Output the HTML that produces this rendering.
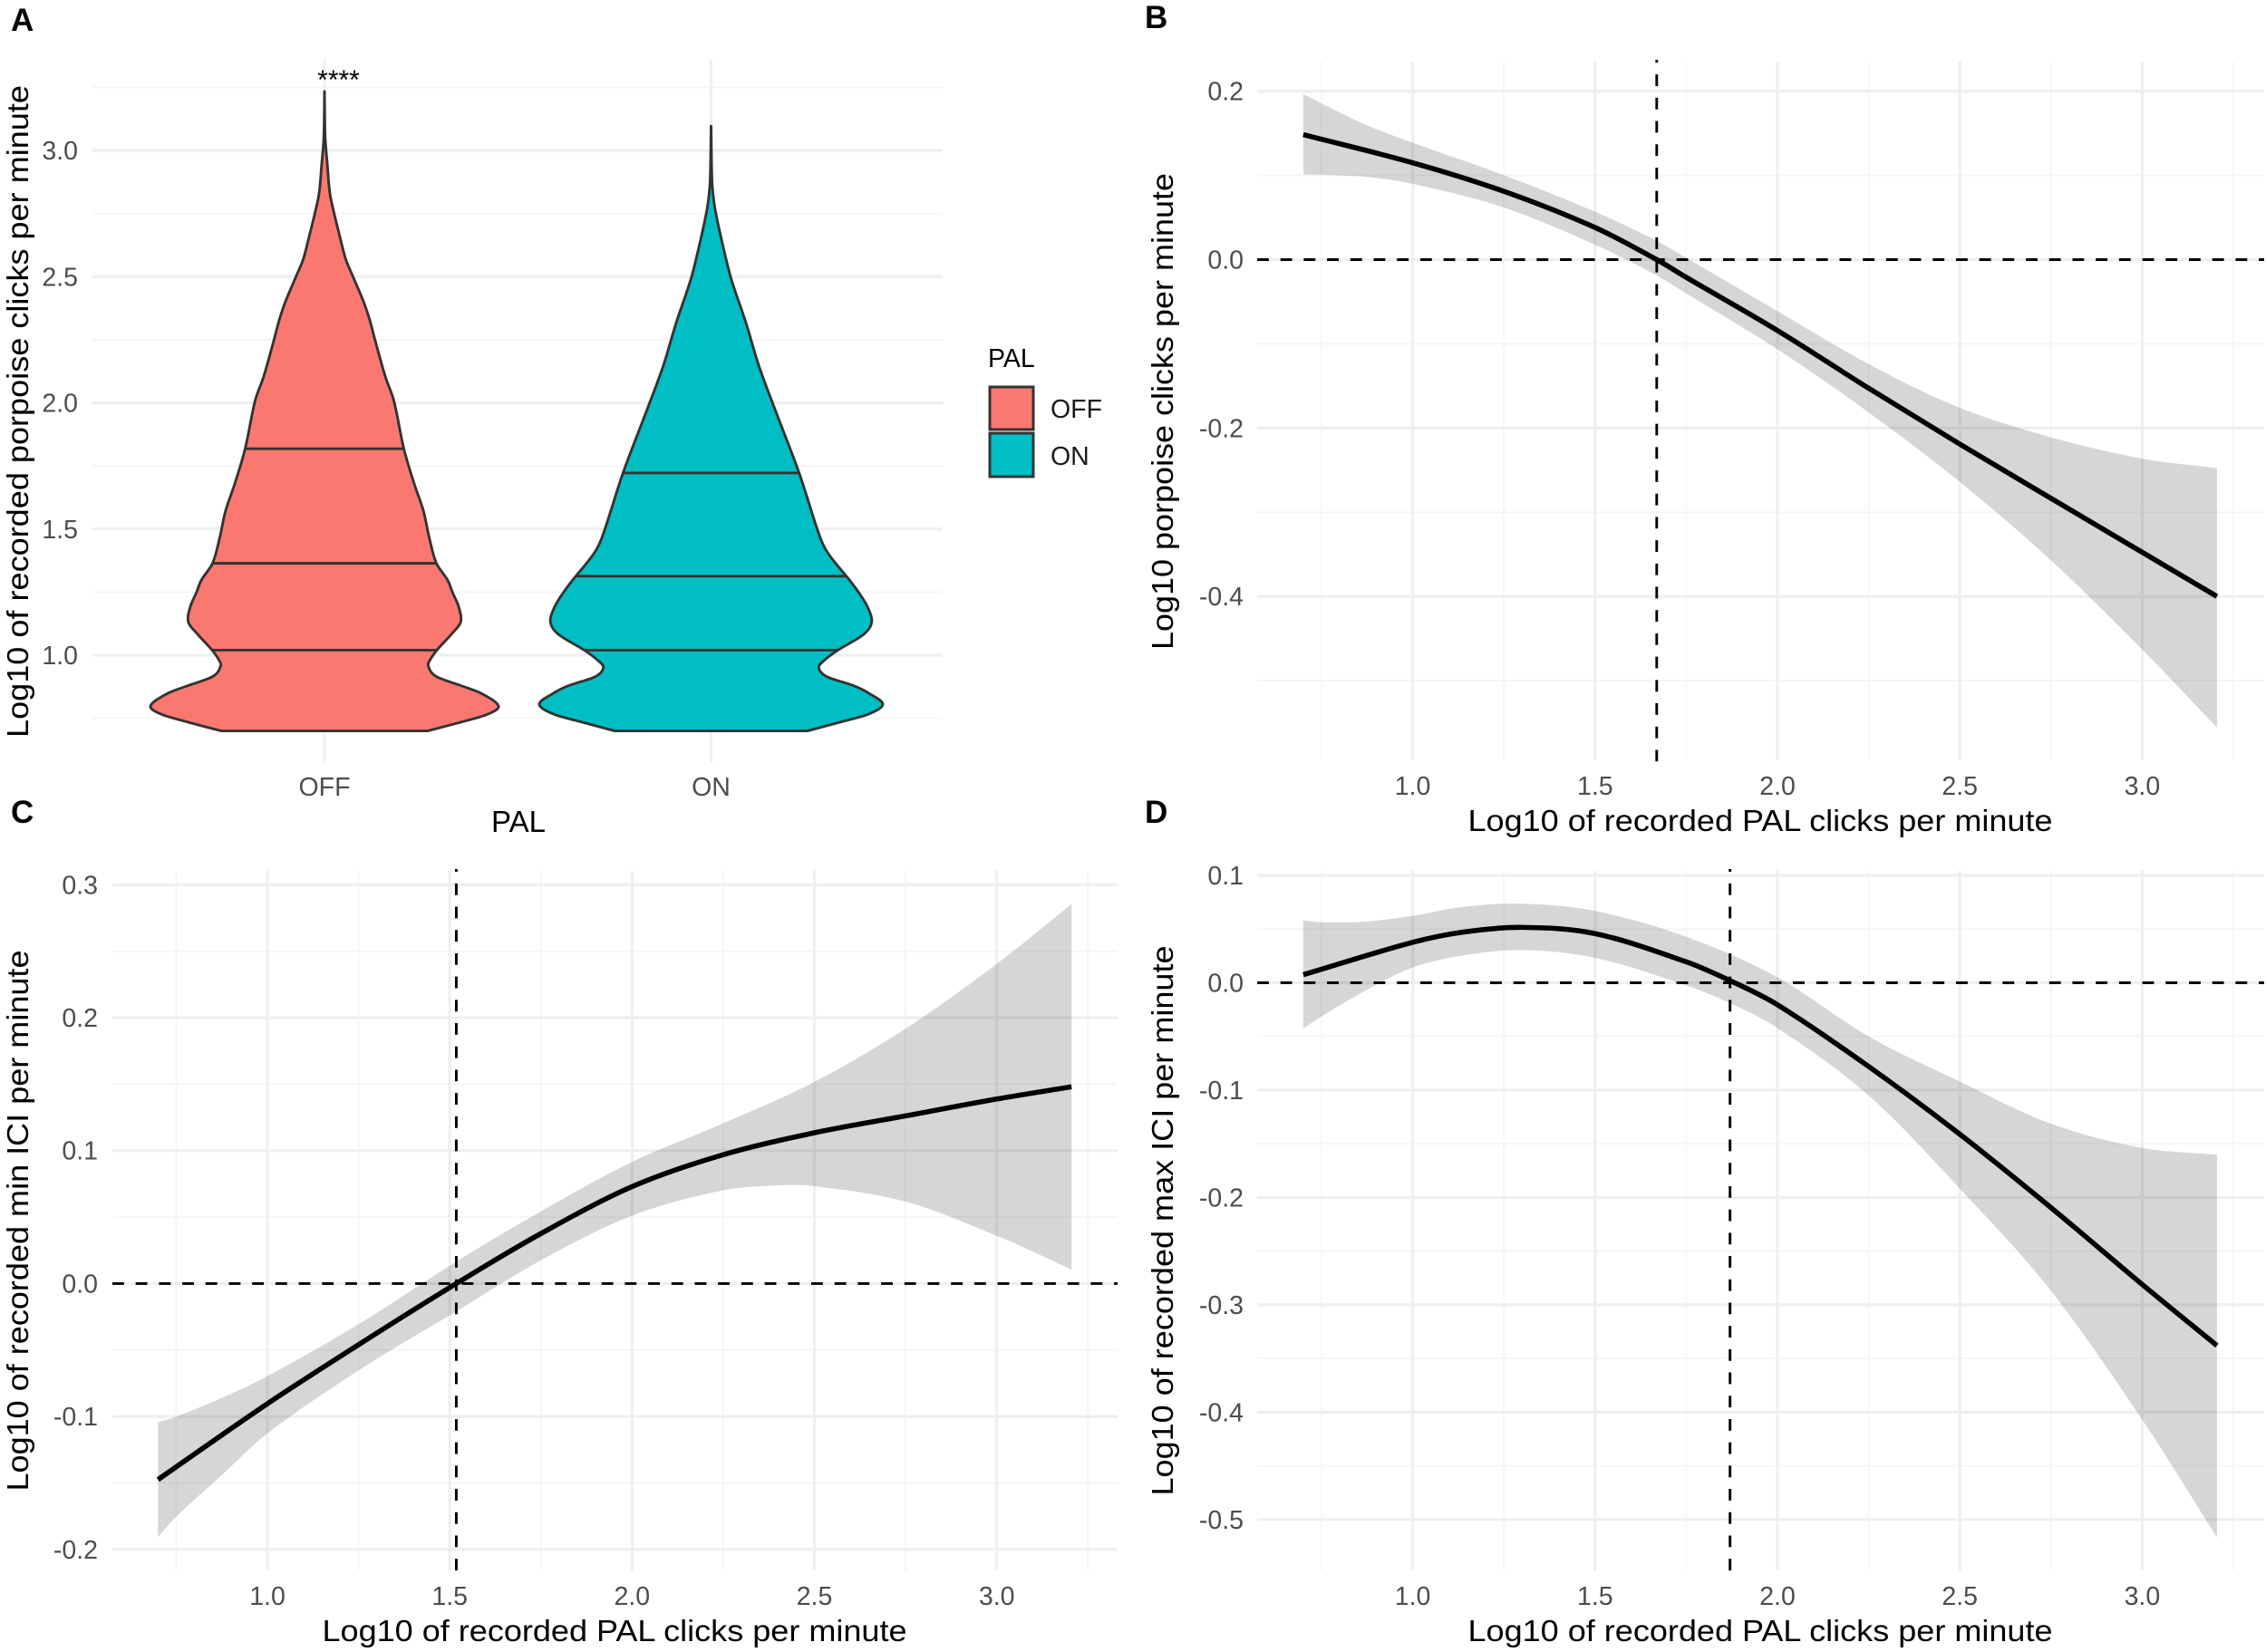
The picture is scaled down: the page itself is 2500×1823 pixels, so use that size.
<!DOCTYPE html>
<html lang="en">
<head>
<meta charset="utf-8">
<title>PAL and porpoise click response plots</title>
<style>
  html,body{margin:0;padding:0;background:#fff;}
  svg{display:block;}
  text{font-family:"Liberation Sans",Arial,sans-serif;}
  .tick{font-size:28.5px;fill:#4D4D4D;}
  .title{font-size:33px;fill:#000;text-anchor:middle;}
  .tag{font-size:35px;font-weight:bold;fill:#000;}
</style>
</head>
<body>
<svg id="figure" xmlns="http://www.w3.org/2000/svg" width="2500" height="1823" viewBox="0 0 2500 1823">
  <rect x="0" y="0" width="2500" height="1823" fill="#ffffff"/>
  <g id="panelA"></g>
  <g id="panelB"></g>
  <g id="panelC"></g>
  <g id="panelD"></g>

  <text class="tag" x="12" y="34">A</text>
  <text class="tag" x="1263" y="31">B</text>
  <text class="tag" x="12" y="908">C</text>
  <text class="tag" x="1263" y="908">D</text>

  <text class="title" x="572" y="918">PAL</text>
  <text class="title" transform="translate(31,454) rotate(-90)" textLength="720" lengthAdjust="spacingAndGlyphs">Log10 of recorded porpoise clicks per minute</text>
  <text class="title" x="1942" y="917" textLength="645" lengthAdjust="spacingAndGlyphs">Log10 of recorded PAL clicks per minute</text>
  <text class="title" transform="translate(1294,454) rotate(-90)" textLength="526" lengthAdjust="spacingAndGlyphs">Log10 porpoise clicks per minute</text>
  <text class="title" x="678" y="1811" textLength="645" lengthAdjust="spacingAndGlyphs">Log10 of recorded PAL clicks per minute</text>
  <text class="title" transform="translate(31,1347) rotate(-90)" textLength="597" lengthAdjust="spacingAndGlyphs">Log10 of recorded min ICI per minute</text>
  <text class="title" x="1942" y="1811" textLength="645" lengthAdjust="spacingAndGlyphs">Log10 of recorded PAL clicks per minute</text>
  <text class="title" transform="translate(1294,1347) rotate(-90)" textLength="607" lengthAdjust="spacingAndGlyphs">Log10 of recorded max ICI per minute</text>

  <text x="373.5" y="98" font-size="30" text-anchor="middle" fill="#000">****</text>

  <g>
    <text x="1090" y="405" font-size="28.5" fill="#000">PAL</text>
    <rect x="1092" y="427" width="48" height="47" fill="#FA7870" stroke="#333333" stroke-width="3"/>
    <rect x="1092" y="478" width="48" height="48" fill="#00BFC4" stroke="#333333" stroke-width="3"/>
    <text class="tick" x="1159" y="461" style="fill:#1a1a1a">OFF</text>
    <text class="tick" x="1159" y="513" style="fill:#1a1a1a">ON</text>
  </g>
</svg>

<script>
/* ---------- Panel A data ---------- */
const violinCategories = ["OFF", "ON"];
const violinYTickLabels = ["1.0", "1.5", "2.0", "2.5", "3.0"];
const violinYMinor = [0.75, 1.25, 1.75, 2.25, 2.75, 3.25];
const violinOffValues = [3.234, 3.05, 2.95, 2.83, 2.749, 2.651, 2.567, 2.495, 2.40, 2.328, 2.25, 2.105, 2.01, 1.818, 1.68, 1.573, 1.466, 1.364, 1.298, 1.25, 1.19, 1.13, 1.083, 1.02, 0.985, 0.959, 0.915, 0.879, 0.849, 0.798, 0.765, 0.735, 0.70];
const violinOffDensity = [0, 0.004, 0.0156, 0.031, 0.056, 0.091, 0.123, 0.167, 0.225, 0.26, 0.29, 0.349, 0.398, 0.456, 0.515, 0.568, 0.602, 0.643, 0.707, 0.735, 0.772, 0.782, 0.729, 0.646, 0.61, 0.596, 0.643, 0.786, 0.90, 1, 0.934, 0.786, 0.593];
const violinOnValues = [3.096, 2.95, 2.872, 2.8, 2.745, 2.617, 2.49, 2.318, 2.148, 1.978, 1.722, 1.466, 1.4, 1.298, 1.25, 1.19, 1.13, 1.083, 1.02, 0.985, 0.953, 0.915, 0.879, 0.849, 0.805, 0.765, 0.735, 0.70];
const violinOnDensity = [0, 0.003, 0.006, 0.016, 0.029, 0.07, 0.116, 0.2, 0.274, 0.365, 0.506, 0.627, 0.676, 0.795, 0.847, 0.9, 0.923, 0.878, 0.729, 0.66, 0.619, 0.665, 0.82, 0.907, 0.987, 0.90, 0.743, 0.554];
const violinOffQuantiles = [1.02, 1.364, 1.818];
const violinOnQuantiles = [1.02, 1.313, 1.722];

/* ---------- Shared x axis for panels B, C, D ---------- */
const palXTickLabels = ["1.0", "1.5", "2.0", "2.5", "3.0"];
const palXMinor = [0.75, 1.25, 1.75, 2.25, 2.75, 3.25];

/* ---------- Panel B data ---------- */
const bYTickLabels = ["-0.4", "-0.2", "0.0", "0.2"];
const bYMinor = [-0.5, -0.3, -0.1, 0.1];
const bVline = [1.669];
const bLineX = [0.7, 1.0, 1.25, 1.5, 1.669, 1.749, 2.0, 2.25, 2.5, 2.75, 3.0, 3.205];
const bLineY = [0.1484, 0.115, 0.0811, 0.0381, 0.0, -0.0208, -0.0842, -0.1527, -0.2191, -0.2835, -0.3475, -0.4];
const bUpperX = [0.7, 0.752, 0.872, 1.0, 1.25, 1.5, 1.669, 1.749, 2.0, 2.25, 2.5, 2.75, 3.0, 3.205];
const bUpperY = [0.1965, 0.185, 0.16, 0.1388, 0.1003, 0.0569, 0.0223, 0.0023, -0.0612, -0.124, -0.176, -0.211, -0.2363, -0.2477];
const bLowerX = [0.7, 0.752, 0.872, 1.0, 1.25, 1.5, 1.669, 1.749, 2.0, 2.25, 2.5, 2.75, 3.0, 3.205];
const bLowerY = [0.1011, 0.1007, 0.0984, 0.09, 0.0619, 0.0177, -0.0188, -0.04, -0.1065, -0.1814, -0.2639, -0.3572, -0.463, -0.5556];

/* ---------- Panel C data ---------- */
const cYTickLabels = ["-0.2", "-0.1", "0.0", "0.1", "0.2", "0.3"];
const cYMinor = [-0.15, -0.05, 0.05, 0.15, 0.25];
const cVline = [1.518];
const cLineX = [0.7, 1.0, 1.25, 1.518, 1.75, 2.0, 2.25, 2.5, 2.75, 3.0, 3.205];
const cLineY = [-0.1475, -0.0904, -0.046, 0.0, 0.0376, 0.0729, 0.0969, 0.1134, 0.1261, 0.1388, 0.148];
const cUpperX = [0.7, 0.75, 0.878, 1.0, 1.25, 1.518, 1.75, 2.0, 2.25, 2.5, 2.75, 3.0, 3.205];
const cUpperY = [-0.1043, -0.1002, -0.0857, -0.0696, -0.0306, 0.0165, 0.0543, 0.0915, 0.1205, 0.1517, 0.1918, 0.2405, 0.2855];
const cLowerX = [0.7, 0.75, 0.878, 1.0, 1.25, 1.518, 1.75, 2.0, 2.25, 2.4, 2.5, 2.75, 3.0, 3.205];
const cLowerY = [-0.1906, -0.1753, -0.1433, -0.1127, -0.0654, -0.0209, 0.0175, 0.0511, 0.0701, 0.0738, 0.0733, 0.0616, 0.036, 0.0105];

/* ---------- Panel D data ---------- */
const dYTickLabels = ["-0.5", "-0.4", "-0.3", "-0.2", "-0.1", "0.0", "0.1"];
const dYMinor = [-0.45, -0.35, -0.25, -0.15, -0.05, 0.05];
const dVline = [1.87];
const dLineX = [0.7, 1.0, 1.14, 1.3, 1.5, 1.75, 1.87, 2.0, 2.25, 2.5, 2.75, 3.0, 3.205];
const dLineY = [0.0075, 0.0377, 0.0473, 0.0516, 0.0458, 0.0195, 0.002, -0.0205, -0.078, -0.1411, -0.2095, -0.281, -0.338];
const dUpperX = [0.7, 0.752, 0.872, 1.0, 1.14, 1.3, 1.5, 1.75, 2.0, 2.25, 2.5, 2.75, 3.0, 3.205];
const dUpperY = [0.0579, 0.0564, 0.057, 0.0624, 0.0708, 0.0736, 0.0669, 0.0428, 0.0051, -0.05, -0.092, -0.1313, -0.1538, -0.1602];
const dLowerX = [0.7, 0.752, 0.872, 1.0, 1.14, 1.3, 1.5, 1.75, 1.87, 2.0, 2.25, 2.5, 2.75, 3.0, 3.205];
const dLowerY = [-0.0425, -0.031, -0.0069, 0.0142, 0.0256, 0.0304, 0.0232, -0.0024, -0.019, -0.0422, -0.105, -0.1918, -0.287, -0.407, -0.5167];

/* ---------- Helpers ---------- */
const NS = "http://www.w3.org/2000/svg";
function make(parent, tag, attrs) {
  const el = document.createElementNS(NS, tag);
  for (const k in attrs) el.setAttribute(k, attrs[k]);
  parent.appendChild(el);
  return el;
}
function linearScale(d0, d1, r0, r1) {
  return function (v) { return r0 + (v - d0) * (r1 - r0) / (d1 - d0); };
}
/* Cubic Hermite through points monotone in the independent coordinate. */
function hermite(ind, dep, toPt) {
  const n = ind.length;
  const tan = [];
  for (let i = 0; i < n; i++) {
    const a = Math.max(0, i - 1), b = Math.min(n - 1, i + 1);
    tan.push((dep[b] - dep[a]) / (ind[b] - ind[a]));
  }
  let d = "";
  for (let i = 0; i < n - 1; i++) {
    const h = ind[i + 1] - ind[i];
    const c1 = toPt(ind[i] + h / 3, dep[i] + tan[i] * h / 3);
    const c2 = toPt(ind[i + 1] - h / 3, dep[i + 1] - tan[i + 1] * h / 3);
    const p = toPt(ind[i + 1], dep[i + 1]);
    d += "C" + c1 + " " + c2 + " " + p + " ";
  }
  return d;
}
function curvePath(xs, ys) {
  const toPt = function (a, b) { return a.toFixed(2) + "," + b.toFixed(2); };
  return { start: toPt(xs[0], ys[0]), body: hermite(xs, ys, toPt) };
}
function interp(vals, dens, v) {
  for (let i = 0; i < vals.length - 1; i++) {
    if (v <= vals[i] && v >= vals[i + 1]) {
      const t = (vals[i] - v) / (vals[i] - vals[i + 1]);
      return dens[i] + t * (dens[i + 1] - dens[i]);
    }
  }
  return 0;
}
function gridH(g, vals, x0, x1, sy, major) {
  vals.forEach(function (v) {
    const el = make(g, "line", { x1: x0, x2: x1, y1: sy(v), y2: sy(v), stroke: major ? "#EFEFEF" : "#F5F5F5", "stroke-width": major ? 3.2 : 1.9 });
    
    
  });
}
function gridV(g, vals, y0, y1, sx, major) {
  vals.forEach(function (v) {
    const el = make(g, "line", { x1: sx(v), x2: sx(v), y1: y0, y2: y1, stroke: major ? "#EFEFEF" : "#F5F5F5", "stroke-width": major ? 3.2 : 1.9 });
    
    
  });
}
function yTickText(g, labels, xRight, sy) {
  labels.forEach(function (s) {
    const el = make(g, "text", { x: xRight, y: sy(parseFloat(s)) + 10, "text-anchor": "end", class: "tick" });
    el.textContent = s;
    
    
  });
}
function xTickText(g, labels, y, sx) {
  labels.forEach(function (s) {
    const el = make(g, "text", { x: sx(parseFloat(s)), y: y, "text-anchor": "middle", class: "tick" });
    el.textContent = s;
    
    
  });
}

/* ---------- Panel A: violins ---------- */
(function () {
  const g = document.getElementById("panelA");
  const sy = linearScale(1, 3, 723, 166);
  const catX = linearScale(0, 1, 358, 784.5);
  const sw = function (d) { return d * 192; };
  const x0 = 102, x1 = 1040, y0 = 66, y1 = 842;
  gridH(g, violinYMinor, x0, x1, sy, false);
  gridH(g, violinYTickLabels.map(parseFloat), x0, x1, sy, true);
  gridV(g, violinCategories.map(function (c, i) { return i; }), y0, y1, catX, true);

  const series = [
    { vals: violinOffValues, dens: violinOffDensity, q: violinOffQuantiles, fill: "#FA7870" },
    { vals: violinOnValues, dens: violinOnDensity, q: violinOnQuantiles, fill: "#00BFC4" }
  ];
  series.forEach(function (s, i) {
    const cx = catX(i);
    const ys = s.vals.map(sy);
    const toPtL = function (yy, d) { return (cx - sw(d)).toFixed(2) + "," + yy.toFixed(2); };
    const toPtR = function (yy, d) { return (cx + sw(d)).toFixed(2) + "," + yy.toFixed(2); };
    const revY = ys.slice().reverse();
    const revD = s.dens.slice().reverse();
    const d = "M" + toPtL(ys[0], s.dens[0]) + " " + hermite(ys, s.dens, toPtL) +
      "L" + toPtR(revY[0], revD[0]) + " " + hermite(revY, revD, toPtR) + "Z";
    const body = make(g, "path", { d: d, fill: s.fill, stroke: "#333333", "stroke-width": 2.9, "stroke-linejoin": "round" });
    
    
    s.q.forEach(function (q) {
      const w = sw(interp(s.vals, s.dens, q));
      const ln = make(g, "line", { x1: cx - w, x2: cx + w, y1: sy(q), y2: sy(q), stroke: "#333333", "stroke-width": 2.9 });
      
      
    });
  });
  yTickText(g, violinYTickLabels, 86, sy);
  violinCategories.forEach(function (c, i) {
    const t = make(g, "text", { x: catX(i), y: 878, "text-anchor": "middle", class: "tick" });
    t.textContent = c;
    
    
  });
})();

/* ---------- Panels B, C, D: smooth with ribbon ---------- */
function smoothPanel(cfg) {
  const g = document.getElementById(cfg.id);
  const sx = cfg.sx, sy = cfg.sy;
  gridH(g, cfg.yMinor, cfg.x0, cfg.x1, sy, false);
  gridV(g, palXMinor, cfg.y0, cfg.y1, sx, false);
  gridH(g, cfg.yLabels.map(parseFloat), cfg.x0, cfg.x1, sy, true);
  gridV(g, palXTickLabels.map(parseFloat), cfg.y0, cfg.y1, sx, true);

  const up = curvePath(cfg.upX.map(sx), cfg.upY.map(sy));
  const lo = curvePath(cfg.loX.slice().reverse().map(sx), cfg.loY.slice().reverse().map(sy));
  const ribbon = make(g, "path", { d: "M" + up.start + " " + up.body + "L" + lo.start + " " + lo.body + "Z", fill: "#333333", "fill-opacity": 0.2 });
  
  

  const hl = make(g, "line", { x1: cfg.x0, x2: cfg.x1, y1: sy(0), y2: sy(0), stroke: "#000", "stroke-width": 2.9, "stroke-dasharray": "12.85 12.85" });
  
  
  const vl = make(g, "line", { x1: sx(cfg.vline[0]), x2: sx(cfg.vline[0]), y1: cfg.vStart, y2: cfg.y0 - 2, stroke: "#000", "stroke-width": 2.9, "stroke-dasharray": "12.85 12.85" });
  
  

  const ln = curvePath(cfg.lineX.map(sx), cfg.lineY.map(sy));
  const curve = make(g, "path", { d: "M" + ln.start + " " + ln.body, fill: "none", stroke: "#000", "stroke-width": 5.6 });
  
  

  yTickText(g, cfg.yLabels, cfg.tickRight, sy);
  xTickText(g, palXTickLabels, cfg.tickY, sx);
}

smoothPanel({
  id: "panelB",
  sx: linearScale(1, 3, 1558.6, 2363.4),
  sy: linearScale(0, -0.4, 286.5, 658.2),
  x0: 1387, x1: 2498, y0: 68, y1: 839, vStart: 840.3, tickRight: 1372, tickY: 877,
  yLabels: bYTickLabels, yMinor: bYMinor, vline: bVline,
  lineX: bLineX, lineY: bLineY, upX: bUpperX, upY: bUpperY, loX: bLowerX, loY: bLowerY
});
smoothPanel({
  id: "panelC",
  sx: linearScale(1, 3, 295, 1099.7),
  sy: linearScale(0, -0.2, 1416.4, 1709.8),
  x0: 124, x1: 1233, y0: 961, y1: 1733, vStart: 1733, tickRight: 108, tickY: 1771,
  yLabels: cYTickLabels, yMinor: cYMinor, vline: cVline,
  lineX: cLineX, lineY: cLineY, upX: cUpperX, upY: cUpperY, loX: cLowerX, loY: cLowerY
});
smoothPanel({
  id: "panelD",
  sx: linearScale(1, 3, 1558.6, 2363.4),
  sy: linearScale(0, -0.5, 1084.5, 1676.8),
  x0: 1387, x1: 2498, y0: 961, y1: 1733, vStart: 1733, tickRight: 1372, tickY: 1771,
  yLabels: dYTickLabels, yMinor: dYMinor, vline: dVline,
  lineX: dLineX, lineY: dLineY, upX: dUpperX, upY: dUpperY, loX: dLowerX, loY: dLowerY
});
</script>
</body>
</html>
